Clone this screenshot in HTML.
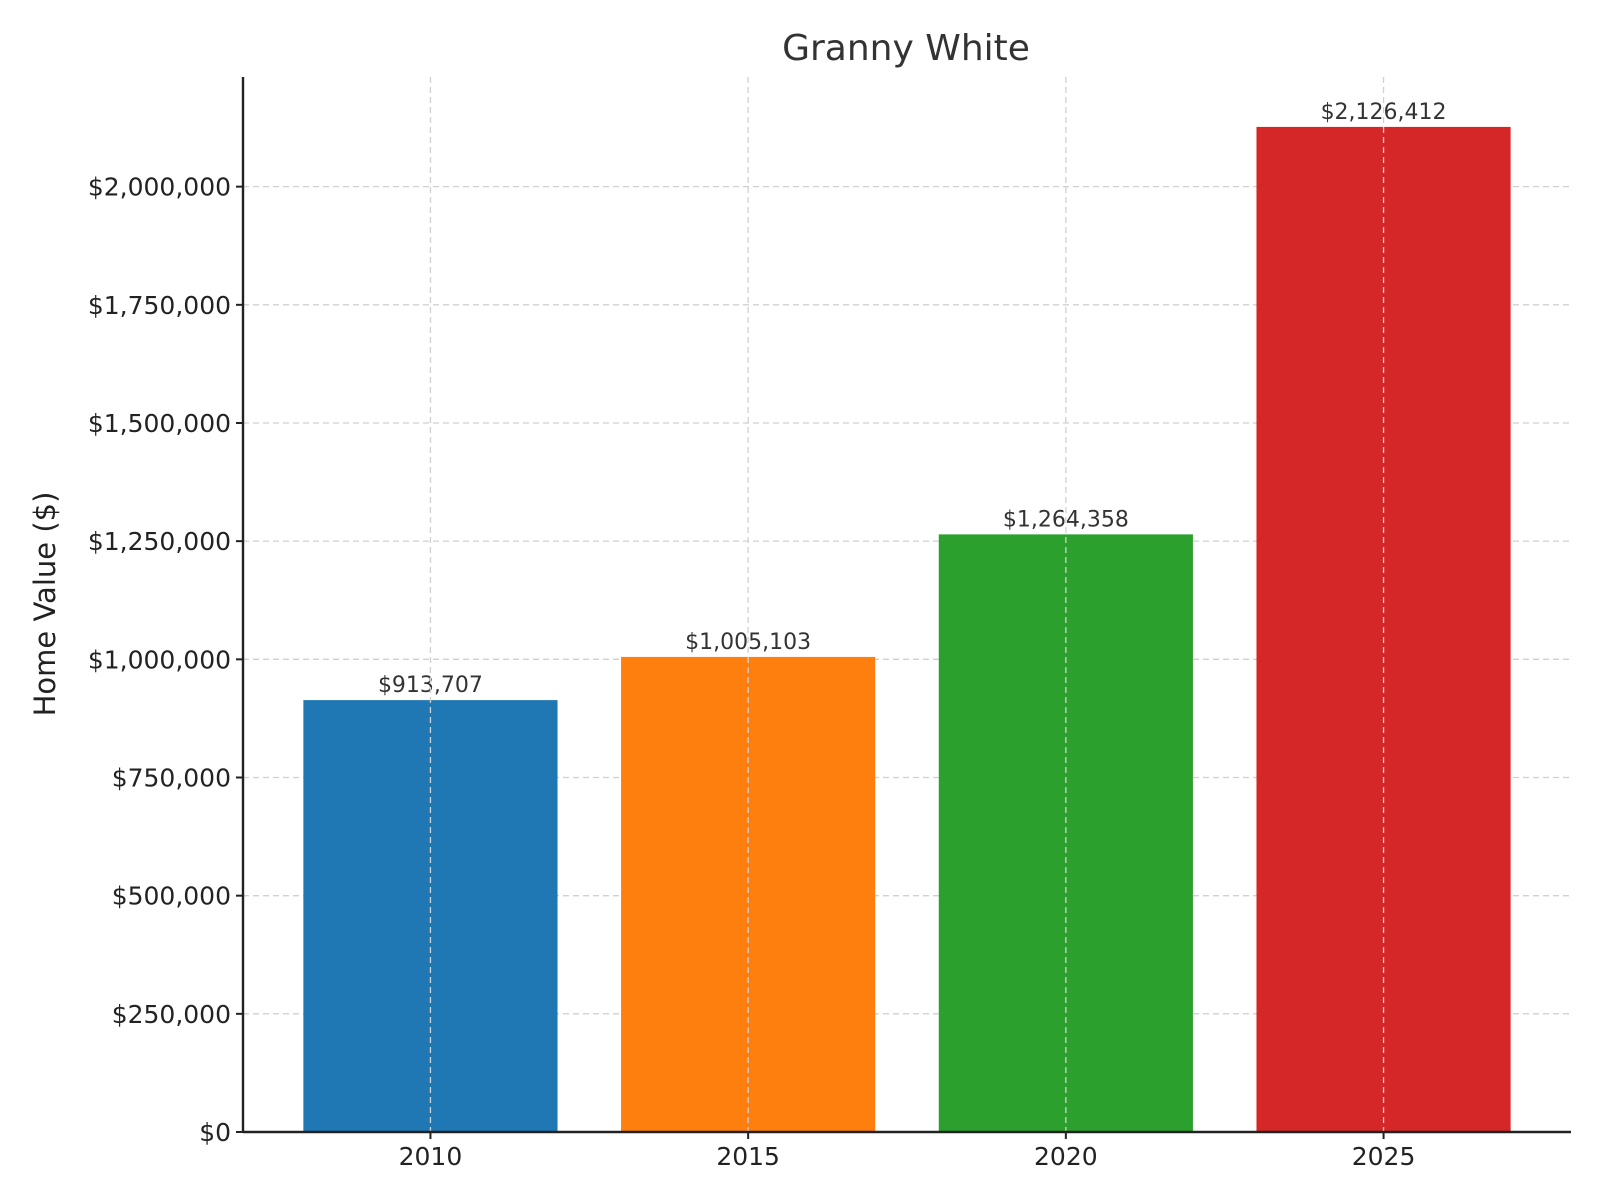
<!DOCTYPE html>
<html><head><meta charset="utf-8"><style>
body{margin:0;background:#fff;}
svg{display:block;font-family:"DejaVu Sans","Liberation Sans",sans-serif;}
</style></head><body>
<svg id="chart" width="1600" height="1200" viewBox="0 0 1600 1200" xmlns="http://www.w3.org/2000/svg">
<rect width="1600" height="1200" fill="#fff"/>
<g id="grid"></g><g id="bars"></g><g id="axes"></g>
<text x="906" y="60" text-anchor="middle" font-size="36" fill="#333">Granny White</text>
<text transform="translate(55,604) rotate(-90)" text-anchor="middle" font-size="29" fill="#222">Home Value ($)</text>
</svg>
<script>
const categories = ["2010","2015","2020","2025"];
const values = [913707,1005103,1264358,2126412];
const valueLabels = ["$913,707","$1,005,103","$1,264,358","$2,126,412"];
const yTicks = [0,250000,500000,750000,1000000,1250000,1500000,1750000,2000000];
const yTickLabels = ["$0","$250,000","$500,000","$750,000","$1,000,000","$1,250,000","$1,500,000","$1,750,000","$2,000,000"];
const colors = ["#1f77b4","#ff7f0e","#2ca02c","#d62728"];
const NS="http://www.w3.org/2000/svg";
const L=243,R=1571,T=77,B=1132;
const ymax=2232000;
const y=v=>B-(v/ymax)*(B-T);
const xmin=-0.59,xmax=categories.length-1+0.59;
const x=i=>L+(i-xmin)/(xmax-xmin)*(R-L);
const bw=0.8*(x(1)-x(0));
function mk(tag,attrs,parent,text){const e=document.createElementNS(NS,tag);for(const k in attrs)e.setAttribute(k,attrs[k]);if(text!==undefined)e.textContent=text;parent.appendChild(e);return e;}
const grid=document.getElementById('grid'),bars=document.getElementById('bars'),axes=document.getElementById('axes');
yTicks.forEach((t,i)=>{
  const g=mk('line',{x1:L,x2:R,y1:y(t),y2:y(t),stroke:'#d0d0d0','stroke-width':1.3,'stroke-dasharray':'6,4'},grid);
  
  
  const tk=mk('line',{x1:L-7,x2:L,y1:y(t),y2:y(t),stroke:'#222','stroke-width':2},axes);
  
  
  const lb=mk('text',{x:L-12,y:y(t)+9,'text-anchor':'end','font-size':25,fill:'#222'},axes,yTickLabels[i]);
  
  
});
categories.forEach((c,i)=>{
  const cx=x(i);
  const r=mk('rect',{x:cx-bw/2,y:y(values[i]),width:bw,height:B-y(values[i]),fill:colors[i]},bars);
  
  
  const vl=mk('text',{x:cx,y:y(values[i])-8,'text-anchor':'middle','font-size':22,fill:'#333'},bars,valueLabels[i]);
  
  
  const g=mk('line',{x1:cx,x2:cx,y1:T,y2:B,stroke:'#d0d0d0','stroke-width':1.3,'stroke-dasharray':'6,4'},bars);
  
  
  const tk=mk('line',{x1:cx,x2:cx,y1:B,y2:B+7,stroke:'#222','stroke-width':2},axes);
  
  
  const lb=mk('text',{x:cx,y:B+33,'text-anchor':'middle','font-size':25,fill:'#222'},axes,c);
  
  
});
const ya=mk('line',{x1:L,x2:L,y1:T,y2:B,stroke:'#222','stroke-width':2.4},axes);


const xa=mk('line',{x1:L,x2:R,y1:B,y2:B,stroke:'#222','stroke-width':2.4},axes);


</script>
</body></html>
